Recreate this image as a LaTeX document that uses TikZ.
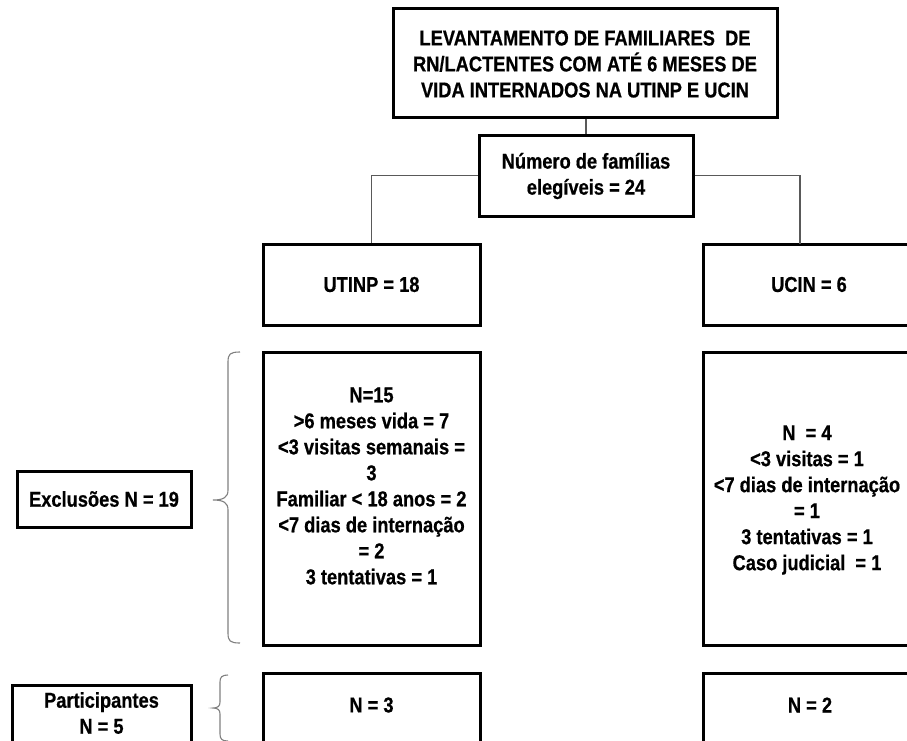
\documentclass[tikz,border=0pt]{standalone}
\usepackage{fontspec}
\setmainfont{Liberation Sans}[FakeStretch=0.85, BoldFeatures={FakeBold=0.6}]
\usetikzlibrary{shadows}
\tikzset{
  box/.style={draw=black, line width=3pt, fill=white, inner sep=0pt,
    drop shadow={shadow xshift=2pt, shadow yshift=-2pt, opacity=0.25}},
  txt/.style={align=center, inner sep=0pt, font=\fontsize{21.5}{26}\selectfont\bfseries},
  conn/.style={draw=black!65, line width=1.1pt},
  brc/.style={draw=black!50, line width=1.1pt},
}
\begin{document}
\begin{tikzpicture}[x=1pt,y=-1pt]
\useasboundingbox (0,0) rectangle (907,740);
\clip (0,0) rectangle (907,740);
\fill[white] (0,0) rectangle (907,740);

% boxes
\node[box, minimum width=384pt, minimum height=109pt] (top) at (585,62.5) {};
\node[txt] (toptxt) at (585,64) {LEVANTAMENTO DE FAMILIARES\ \ DE\\RN/LACTENTES COM ATÉ 6 MESES DE\\VIDA INTERNADOS NA UTINP E UCIN};

\node[box, minimum width=214pt, minimum height=81pt] (elig) at (586,175.5) {};
\node[txt] (eligtxt) at (586,176) {Número de famílias\\elegíveis = 24};

\node[box, minimum width=217pt, minimum height=81pt] (utinp) at (371.5,284.5) {};
\node[txt] (utinptxt) at (371.5,284.5) {UTINP = 18};

\node[box, minimum width=222pt, minimum height=81pt] (ucin) at (814,284.5) {};
\node[txt] (ucintxt) at (809,284.5) {UCIN = 6};

\node[box, minimum width=217pt, minimum height=293pt] (exl) at (371.5,498.5) {};
\node[txt] (exltxt) at (371.5,486) {N=15\\>6 meses vida = 7\\<3 visitas semanais =\\3\\Familiar < 18 anos = 2\\<7 dias de internação\\= 2\\3 tentativas = 1};

\node[box, minimum width=222pt, minimum height=293pt] (exr) at (814,498.5) {};
\node[txt] (exrtxt) at (807,500) {N\ \ = 4\\<3 visitas = 1\\<7 dias de internação\\= 1\\3 tentativas = 1\\Caso judicial\ \ = 1};

\node[box, minimum width=174pt, minimum height=56pt] (excl) at (104,499) {};
\node[txt] (excltxt) at (104,499) {Exclusões N = 19};

\node[box, minimum width=217pt, minimum height=87pt] (n3) at (371.5,716.5) {};
\node[txt] (n3txt) at (371.5,705) {N = 3};

\node[box, minimum width=222pt, minimum height=87pt] (n2) at (814,716.5) {};
\node[txt] (n2txt) at (810,705) {N = 2};

\node[box, minimum width=179pt, minimum height=80pt] (part) at (101.5,725) {};
\node[txt] (parttxt) at (101.5,713) {Participantes\\N = 5};

% connectors
\coordinate (ucintop) at (800,244);
\draw[conn] (top.south -| elig.north) -- (elig.north);
\draw[conn] (elig.west) -| (utinp.north);
\draw[conn] (elig.east) -| (ucintop);

% braces
\draw[brc] (240,352) .. controls (230,352) and (228,354) .. (228,362)
  -- (228,490) .. controls (228,497) and (224,500) .. (213,500)
  .. controls (224,500) and (228,503) .. (228,510)
  -- (228,633) .. controls (228,641) and (230,643) .. (240,643);
\draw[brc] (228,675) .. controls (222,675) and (220,677) .. (220,682)
  -- (220,702) .. controls (220,706) and (218,708) .. (213,708)
  .. controls (218,708) and (220,710) .. (220,714)
  -- (220,734) .. controls (220,739) and (222,741) .. (228,741);
\end{tikzpicture}
\end{document}
